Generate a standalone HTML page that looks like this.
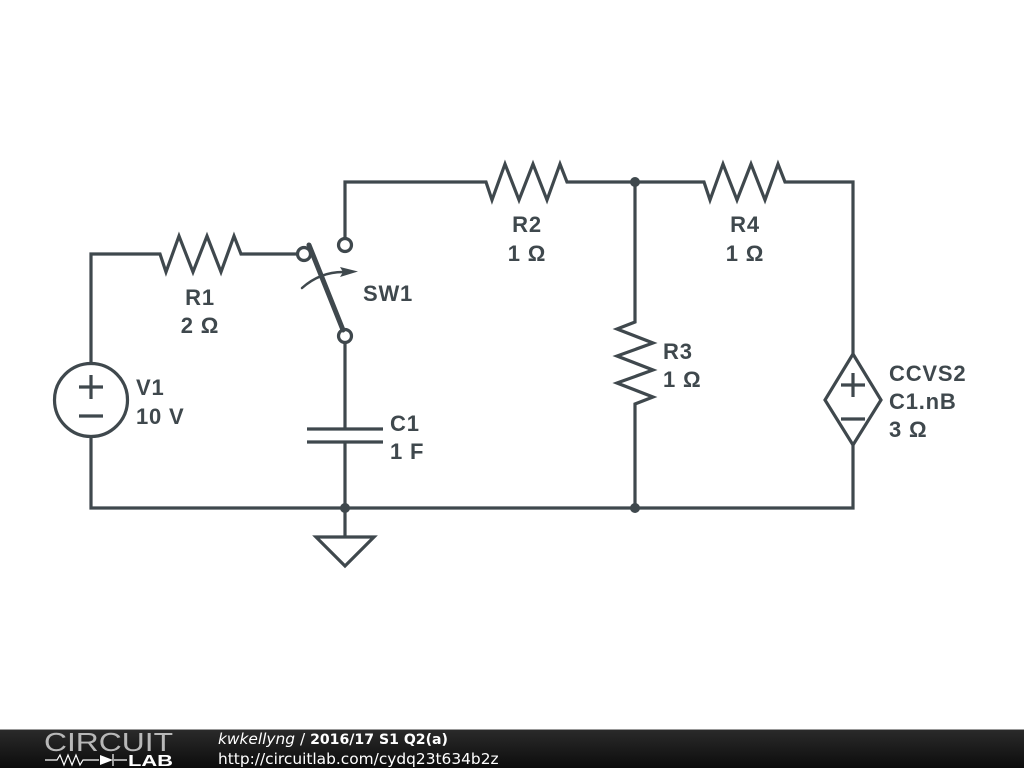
<!DOCTYPE html>
<html><head><meta charset="utf-8"><style>
html,body{margin:0;padding:0;background:#fff;width:1024px;height:768px;overflow:hidden}
svg{display:block}
.l{font-family:"Liberation Sans",sans-serif;font-weight:bold;font-size:22px;letter-spacing:.8px;fill:#3f484d;stroke:none}
.f{font-family:"DejaVu Sans",sans-serif;font-size:15.4px;fill:#fff}
</style></head><body>
<svg width="1024" height="768" viewBox="0 0 1024 768" xmlns="http://www.w3.org/2000/svg">
<defs><linearGradient id="g" x1="0" y1="0" x2="0" y2="1"><stop offset="0" stop-color="#2b2b2b"/><stop offset="1" stop-color="#0c0c0c"/></linearGradient></defs>
<g fill="none" stroke="#3f484d" stroke-width="3.2" stroke-linejoin="miter">
<path d="M91 363V254H160L166 272L179 236L193 272L207 236L221 272L234 236L241 254H297"/>
<path d="M91 437V508H853V445"/>
<path d="M345 238V182H486L492 200L505 164L519 200L533 164L547 200L560 164L567 182H704L710 200L723 164L737 200L751 164L765 200L778 164L785 182H853V354"/>
<path d="M635 182V322L617 329L653 343L617 356L653 370L617 383L653 397L635 404V508"/>
<circle cx="91" cy="400" r="36.5"/>
<path d="M79 387H103M91 375V399M79 416H103"/>
<path d="M853 354L881 400L853 445L825 400Z"/>
<path d="M841 385H865M853 373V397M841 419H865"/>
<circle cx="304" cy="254" r="6.5"/>
<circle cx="345" cy="245" r="6.5"/>
<circle cx="345" cy="336" r="6.5"/>
<path d="M345 343V429M345 441V508V537"/>
<path d="M307 429H383M307 442H383"/>
<path d="M316 537H374L345 566Z"/>
<path d="M309 245L343 330" stroke-width="5" stroke-linecap="round"/>
<path d="M302 288Q320 272 343 272" stroke-width="2.5" stroke-linecap="round"/>
</g>
<path d="M340 267L358 271.5L340 277L343 272Z" fill="#3f484d"/>
<circle cx="635" cy="182" r="5" fill="#3f484d"/>
<circle cx="635" cy="508" r="5" fill="#3f484d"/>
<circle cx="345" cy="508" r="5" fill="#3f484d"/>
<text class="l" x="200" y="305" text-anchor="middle">R1</text>
<text class="l" x="200" y="333" text-anchor="middle">2 Ω</text>
<text class="l" x="527" y="232" text-anchor="middle">R2</text>
<text class="l" x="527" y="261" text-anchor="middle">1 Ω</text>
<text class="l" x="745" y="232" text-anchor="middle">R4</text>
<text class="l" x="745" y="261" text-anchor="middle">1 Ω</text>
<text class="l" x="663" y="359">R3</text>
<text class="l" x="663" y="387">1 Ω</text>
<text class="l" x="136" y="395">V1</text>
<text class="l" x="136" y="424">10 V</text>
<text class="l" x="363" y="301">SW1</text>
<text class="l" x="390" y="431">C1</text>
<text class="l" x="390" y="459">1 F</text>
<text class="l" x="889" y="381">CCVS2</text>
<text class="l" x="889" y="409">C1.nB</text>
<text class="l" x="889" y="437">3 Ω</text>
<rect x="0" y="729" width="1024" height="39" fill="url(#g)"/>
<rect x="0" y="729" width="1024" height="1" fill="#999"/>
<text x="44" y="751" font-family="Liberation Sans,sans-serif" font-size="26" fill="#b8b8b8" textLength="129" lengthAdjust="spacingAndGlyphs" style="font-weight:normal">CIRCUIT</text>
<text x="128" y="766" font-family="Liberation Sans,sans-serif" font-size="15.5" font-weight="bold" fill="#fff" textLength="45" lengthAdjust="spacingAndGlyphs">LAB</text>
<path d="M45 760H57L60 755L64 765L68 755L72 765L76 755L80 765L83 760H99M114 760H127M113 754V766" fill="none" stroke="#fff" stroke-width="1.2"/>
<path d="M100 755L113 760L100 765Z" fill="#fff"/>
<text class="f" x="218" y="744"><tspan font-style="italic">kwkellyng</tspan> / <tspan font-weight="bold" font-size="14.1">2016/17 S1 Q2(a)</tspan></text>
<text class="f" x="218" y="764">http://circuitlab.com/cydq23t634b2z</text>
</svg>
</body></html>
